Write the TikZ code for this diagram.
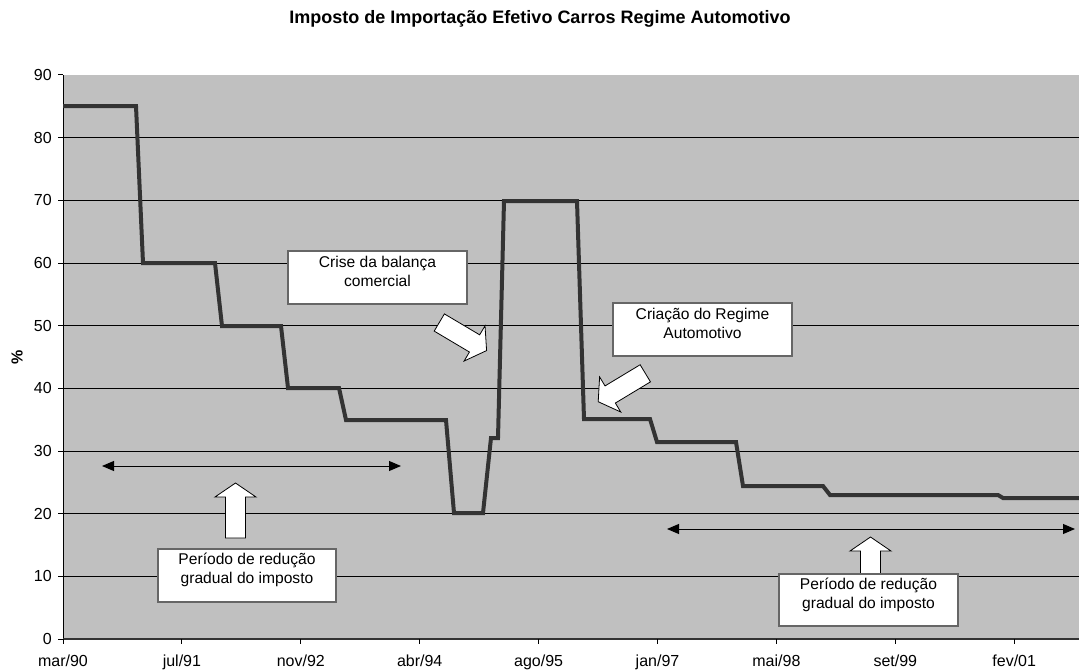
\documentclass[tikz,border=0pt]{standalone}
\usepackage{fontspec}
\setmainfont{Liberation Sans}
\usetikzlibrary{arrows.meta}
\definecolor{plotbg}{HTML}{C0C0C0}
\definecolor{seriesc}{HTML}{333333}
\definecolor{boxline}{HTML}{666666}
\begin{document}
\begin{tikzpicture}[x=0.75pt,y=-0.75pt,
  font=\fontsize{12}{14}\selectfont,
  gridline/.style={black, line width=0.7pt},
  seriesline/.style={seriesc, line width=3pt, line join=miter},
  ticklabel/.style={inner sep=0pt, font=\fontsize{12}{14}\selectfont},
  annbox/.style={draw=boxline, fill=white, line width=0.8pt, inner sep=0pt},
  anntext/.style={align=center, inner sep=0pt, font=\fontsize{11.7}{14.25}\selectfont},
  blockarrowstyle/.style={draw=black, fill=white, line width=0.6pt, line join=miter},
  spanarrow/.style={draw=black, line width=0.75pt, {Triangle[length=9pt,width=7.5pt]}-{Triangle[length=9pt,width=7.5pt]}},
  blockarr/.pic={\draw[blockarrowstyle] (0,-10)--(41,-10)--(41,-20.5)--(55,0)--(41,20.5)--(41,10)--(0,10)--cycle;}
]
\useasboundingbox (0,0) rectangle (1079,671);
% title
\node[anchor=base, inner sep=0pt, font=\fontsize{13.5}{16}\selectfont\bfseries] (title) at (540,23.5) {Imposto de Importação Efetivo Carros Regime Automotivo};
% axis title
\node[rotate=90, inner sep=0pt, font=\fontsize{12}{14}\selectfont\bfseries] (ytitle) at (17,357) {\%};
% plot area
\fill[plotbg] (63,75) rectangle (1079,639);
\foreach \v in {10,20,...,80} {
  \draw[gridline] (63,{639-\v*6.2667}) -- (1079,{639-\v*6.2667});
}
% axes
\draw[black, line width=0.75pt] (63,75) -- (63,639);
\draw[seriesc, line width=1.3pt] (63,639) -- (1079,639);
\foreach \v [count=\i] in {0,10,...,90} {
  \draw[black, line width=0.75pt] (58,{639-\v*6.2667}) -- (63,{639-\v*6.2667});
  \node[ticklabel, anchor=east] (yl\i) at (52,{639-\v*6.2667}) {\v};
}
\foreach \m/\yr [count=\i from 0] in {mar/90,jul/91,nov/92,abr/94,ago/95,jan/97,mai/98,set/99,fev/01} {
  \draw[black, line width=0.75pt] ({63+118.9*\i},639) -- ({63+118.9*\i},644);
  \node[ticklabel, anchor=base] (xl\i) at ({63+118.9*\i},666.5) {\m/\yr};
}
% series
\draw[seriesline] (63,106) -- (136,106) -- (143,263) -- (215,263) -- (222,326) -- (281,326)
  -- (288,388) -- (339,388) -- (346,420) -- (446,420) -- (454,513) -- (483,513)
  -- (491,438) -- (498,438) -- (504,201) -- (577,201) -- (584,419) -- (650,419)
  -- (657,442) -- (736,442) -- (743,486) -- (823,486) -- (830,495) -- (998,495)
  -- (1003,498) -- (1079,498);
% period spans
\coordinate (s1a) at (102,466);
\coordinate (s1b) at (401,466);
\coordinate (s2a) at (667,529);
\coordinate (s2b) at (1075,529);
\draw[spanarrow] (s1a) -- (s1b);
\draw[spanarrow] (s2a) -- (s2b);
% block arrows
\pic[rotate=90] (upleft) at (235.5,538) {blockarr};
\pic[rotate=90] (upright) at (870.5,592) {blockarr};
\pic[rotate=-30.7] (crisearr) at (439.3,322.5) {blockarr};
\pic[rotate=211.1] (regarr) at (645.3,373.3) {blockarr};
% boxes
\node[annbox, minimum width=134.25pt, minimum height=39.75pt] (crise) at (377.5,277.5) {};
\node[anntext] (crisetxt) at (377.5,271.5) {Crise da balança\\comercial};
\node[annbox, minimum width=134.25pt, minimum height=39.75pt] (regime) at (702.5,329.5) {};
\node[anntext] (regimetxt) at (702.5,323.5) {Criação do Regime\\Automotivo};
\node[annbox, minimum width=133.5pt, minimum height=39.75pt] (per1) at (247,575.5) {};
\node[anntext] (per1txt) at (247,570) {Período de redução\\gradual do imposto};
\node[annbox, minimum width=134.25pt, minimum height=39pt] (per2) at (868.5,600) {};
\node[anntext] (per2txt) at (868.5,594.5) {Período de redução\\gradual do imposto};
\end{tikzpicture}
\end{document}
